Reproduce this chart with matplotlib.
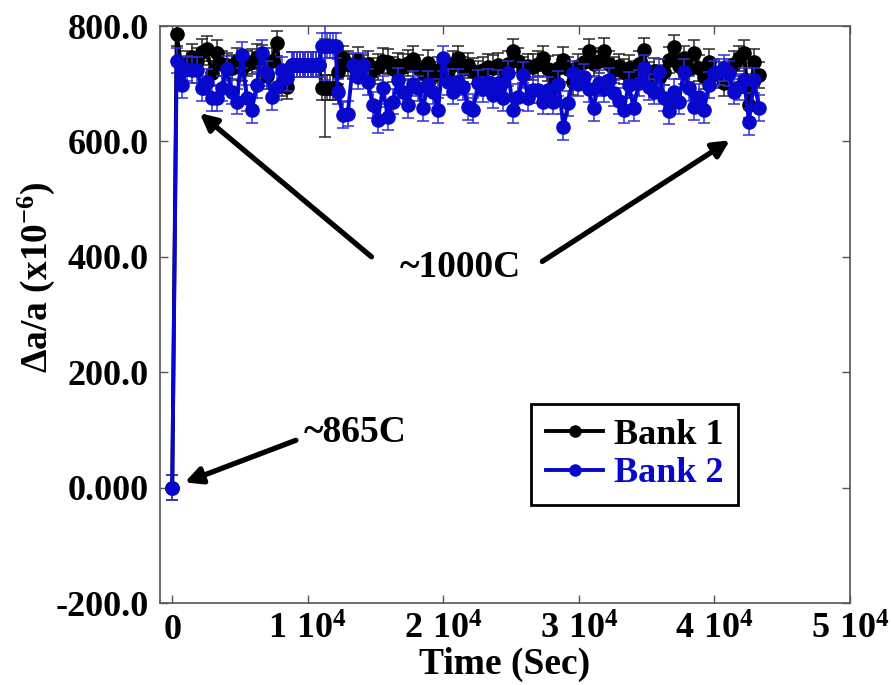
#!/usr/bin/env python3
"""Lattice strain vs. time for two detector banks (865C -> 1000C step)."""

import matplotlib
matplotlib.use("Agg")
import matplotlib.pyplot as plt
from matplotlib.lines import Line2D

plt.rcParams["font.family"] = ["Liberation Serif", "DejaVu Serif"]
plt.rcParams["font.weight"] = "bold"
plt.rcParams["axes.labelweight"] = "bold"
plt.rcParams["mathtext.fontset"] = "custom"
plt.rcParams["mathtext.rm"] = "Liberation Serif:bold"
plt.rcParams["mathtext.it"] = "Liberation Serif:bold"
plt.rcParams["mathtext.bf"] = "Liberation Serif:bold"
plt.rcParams["mathtext.default"] = "rm"

BLUE = "#0808cc"
BLUE_ERR = "#3030dd"
BLACK_ERR = "#2a2a2a"
SPINE = "#555555"

# --- data -------------------------------------------------------------------
time_s = [
    0,
    # ramp to 1000C
    330, 700, 1070, 1440, 1810, 2180, 2550, 2920, 3280, 3650, 4020, 4390,
    4760, 5130, 5500, 5870, 6240, 6600, 6970, 7340, 7710, 8080, 8450,
    # flat stretch
    8820, 9020, 9220, 9420, 9620, 9820, 10020, 10220, 10420, 10620, 10820,
    11030, 11250, 11450, 11650, 11850, 12050,
    # rest of hold
    12210, 12580, 12950, 13320, 13690, 14060, 14430, 14800, 15170, 15540,
    15910, 16280, 16650, 17020, 17390, 17760, 18130, 18500, 18870, 19240,
    19610, 19980, 20350, 20720, 21090, 21460, 21830, 22200, 22570, 22940,
    23310, 23680, 24050, 24420, 24790, 25160, 25530, 25900, 26270, 26640,
    27010, 27380, 27750, 28120, 28490, 28860, 29230, 29600, 29970, 30340,
    30710, 31080, 31450, 31820, 32190, 32560, 32930, 33300, 33670, 34040,
    34410, 34780, 35150, 35520, 35890, 36260, 36630, 37000, 37370, 37740,
    38110, 38480, 38850, 39220, 39590, 39960, 40330, 40700, 41070, 41440,
    41810, 42180, 42550, 42920, 43290,
]

bank1 = [
    0,
    787, 724, 735, 747, 740, 755, 761, 718, 753, 735, 732, 728,
    740, 727, 735, 738, 747, 745, 713, 740, 770, 701, 695,
    733, 733, 733, 733, 733, 733, 733, 733, 733, 733, 733,
    693, 693, 693, 693, 693, 693,
    721, 744, 735, 730, 741, 728, 735, 722, 729, 740,
    738, 725, 732, 729, 736, 743, 728, 718, 736, 715,
    724, 720, 722, 735, 744, 725, 732, 722, 718, 724,
    729, 727, 732, 703, 735, 756, 740, 724, 730, 729,
    735, 744, 726, 710, 728, 741, 725, 703, 730, 738,
    756, 735, 740, 757, 735, 724, 730, 721, 727, 718,
    735, 758, 715, 722, 710, 720, 741, 763, 730, 744,
    725, 753, 727, 712, 738, 721, 715, 701, 720, 735,
    744, 753, 663, 738, 715,
]

bank2 = [
    0,
    740, 698, 726, 724, 724, 692, 703, 675, 675, 692, 726, 686,
    669, 750, 675, 654, 698, 753, 718, 677, 694, 724, 710,
    733, 733, 733, 733, 733, 733, 733, 733, 733, 733, 733,
    766, 766, 766, 766, 766, 766,
    686, 646, 648, 732, 712, 732, 703, 663, 637, 692,
    642, 669, 706, 686, 663, 700, 692, 658, 700, 686,
    654, 744, 703, 686, 703, 694, 660, 654, 701, 690,
    703, 680, 701, 675, 718, 654, 677, 715, 675, 689,
    689, 669, 689, 669, 700, 625, 666, 718, 700, 712,
    690, 658, 701, 690, 706, 684, 670, 654, 698, 658,
    701, 727, 694, 686, 721, 675, 652, 686, 669, 721,
    692, 660, 677, 654, 698, 718, 720, 727, 718, 686,
    694, 706, 634, 706, 658,
]

# typical error bar half-length, plus the one large bar near t = 11250 s
err_typical = 22
err_big_time = 11250
bank1_err_big = 85
bank2_err_big = 60

x_ticks = [0, 10000, 20000, 30000, 40000, 50000]
x_tick_labels = ["0", r"$1\ 10^{4}$", r"$2\ 10^{4}$", r"$3\ 10^{4}$",
                 r"$4\ 10^{4}$", r"$5\ 10^{4}$"]
y_ticks = [-200, 0, 200, 400, 600, 800]
y_tick_labels = ["-200.0", "0.000", "200.0", "400.0", "600.0", "800.0"]


def errors(big):
    out = [err_typical for _ in time_s]
    out[time_s.index(err_big_time)] = big
    return out


def main():
    fig = plt.figure(figsize=(8.91, 6.85), dpi=100)
    ax = fig.add_axes([0.1796, 0.1197, 0.7744, 0.8423])

    ax.errorbar(time_s, bank1, yerr=errors(bank1_err_big), fmt="-o",
                color="black", lw=2.8, ms=9.5, ecolor=BLACK_ERR, elinewidth=1.1,
                capsize=4, capthick=1.1, zorder=2)
    ax.errorbar(time_s, bank2, yerr=errors(bank2_err_big), fmt="-o",
                color=BLUE, lw=2.8, ms=9.5, ecolor=BLUE_ERR, elinewidth=1.1,
                capsize=4, capthick=1.1, zorder=3)

    ax.set_xlim(-900, 50000)
    ax.set_ylim(-200, 800)
    ax.set_xticks(x_ticks)
    ax.set_xticklabels(x_tick_labels)
    ax.set_yticks(y_ticks)
    ax.set_yticklabels(y_tick_labels)
    ax.tick_params(direction="in", length=6, width=1, color=SPINE,
                   top=True, right=True, labelsize=26, pad=8)
    for s in ax.spines.values():
        s.set_color(SPINE)
        s.set_linewidth(1.2)

    ax.set_xlabel("Time (Sec)", fontsize=27, labelpad=0)
    ax.set_ylabel("Δa/a (x10$^{-6}$)", fontsize=27)
    ax.yaxis.set_label_coords(-0.15, 0.565)

    arrow = dict(arrowstyle="-|>,head_length=1.0,head_width=0.5",
                 color="black", lw=3.8, shrinkA=0, shrinkB=0)
    ax.text(21220, 382, "~1000C", fontsize=27, ha="center", va="center")
    ax.annotate("", xy=(2030, 649), xytext=(14700, 400), arrowprops=arrow)
    ax.annotate("", xy=(41140, 602), xytext=(27300, 392), arrowprops=arrow)
    ax.text(13470, 95, "~865C", fontsize=27, ha="center", va="center")
    ax.annotate("", xy=(920, 9), xytext=(9120, 82), arrowprops=arrow)

    handles = [
        Line2D([], [], color="black", lw=2.8, marker="o", ms=8),
        Line2D([], [], color=BLUE, lw=2.8, marker="o", ms=8),
    ]
    leg = ax.legend(handles, ["Bank 1", "Bank 2"], loc="upper left",
                    bbox_to_anchor=(0.538, 0.345), borderaxespad=0,
                    fontsize=26, labelcolor=["black", BLUE], fancybox=False,
                    framealpha=1, edgecolor="black", handlelength=1.6,
                    handletextpad=0.3, borderpad=0.4, labelspacing=0.15)
    leg.get_frame().set_linewidth(2)

    fig.savefig("out.png", dpi=100)
    plt.close(fig)


if __name__ == "__main__":
    main()
